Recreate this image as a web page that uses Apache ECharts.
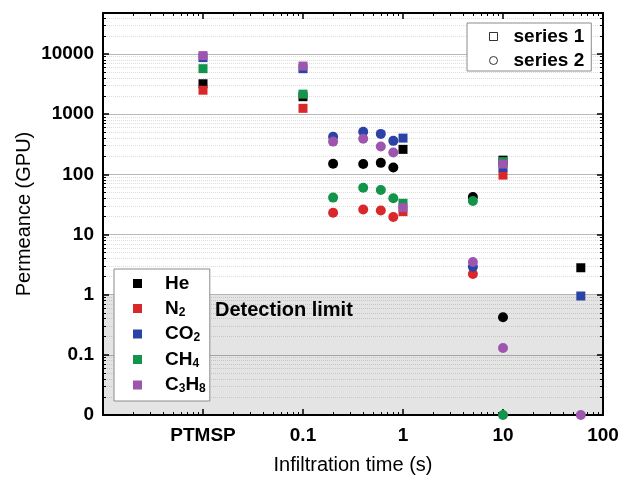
<!DOCTYPE html>
<html><head><meta charset="utf-8">
<script src="https://cdn.jsdelivr.net/npm/echarts@6/dist/echarts.min.js"></script>
<style>html,body{margin:0;padding:0;background:#fff}#c{width:622px;height:477px}</style>
</head><body><div id="c"></div><script>
// ---- data ----
const gases = ['He', 'N2', 'CO2', 'CH4', 'C3H8'];
const gasColors = ['#000000', '#d8282a', '#2b43a6', '#13944b', '#9e55ae'];
const xTickLabels = [[0.01, 'PTMSP'], [0.1, '0.1'], [1, '1'], [10, '10'], [100, '100']];
const yTickLabels = [[0.01, '0'], [0.1, '0.1'], [1, '1'], [10, '10'], [100, '100'], [1000, '1000'], [10000, '10000']];

// series 1 (squares)
const squareX = [0.01, 0.1, 1, 10, 60];
const heSquare = [3200, 1950, 260, 172, 2.8];
const n2Square = [2500, 1250, 24, 97, null];
const co2Square = [8700, 5700, 400, 130, 0.95];
const ch4Square = [5700, 2150, 33, 163, null];
const c3h8Square = [9400, 6300, 28, 148, null];

// series 2 (circles)
const circleX = [0.2, 0.4, 0.6, 0.8, 5, 10, 60];
const heCircle = [150, 148, 155, 130, 42, 0.42, null];
const n2Circle = [23, 26, 25, 19.5, 2.2, null, null];
const co2Circle = [420, 510, 470, 360, 2.9, null, null];
const ch4Circle = [41, 60, 55, 40, 36, 0, null];
const c3h8Circle = [350, 390, 290, 230, 3.5, 0.13, 0];

const squareSets = [heSquare, n2Square, co2Square, ch4Square, c3h8Square];
const circleSets = [heCircle, n2Circle, co2Circle, ch4Circle, c3h8Circle];

// ---- chart ----
const X_MIN = 0.001, X_MAX = 100, Y_MIN = 0.01, Y_MAX = 48000;
const FONT = '"Liberation Sans", Arial, Helvetica, sans-serif';

function lookup(table, v) {
  for (const [k, s] of table) {
    if (Math.abs(Math.log10(v) - Math.log10(k)) < 1e-6) return s;
  }
  return '';
}
function pts(xs, ys) {
  const out = [];
  xs.forEach((x, i) => {
    const y = ys[i];
    if (y === null || y === undefined) return;
    out.push([x, y === 0 ? Y_MIN : y]);
  });
  return out;
}

const series = [];
series.push({
  name: 'detection', type: 'scatter', data: [], z: 1, silent: true,
  markArea: {
    silent: true,
    itemStyle: { color: 'rgba(0,0,0,0.105)' },
    label: {
      show: true, position: [112, 6], formatter: 'Detection limit',
      fontFamily: FONT, fontWeight: 'bold', fontSize: 20, color: '#000'
    },
    data: [[{ coord: [X_MIN, Y_MIN] }, { coord: [X_MAX, 1] }]]
  }
});
gases.forEach((g, i) => {
  series.push({
    name: g, type: 'scatter', symbol: 'rect', symbolSize: 9, clip: false,
    itemStyle: { color: gasColors[i], opacity: 1 },
    data: pts(squareX, squareSets[i])
  });
});
gases.forEach((g, i) => {
  series.push({
    name: g, type: 'scatter', symbol: 'circle', symbolSize: 10, clip: false,
    itemStyle: { color: gasColors[i], opacity: 1 },
    data: pts(circleX, circleSets[i])
  });
});
series.push({ name: 'series 1', type: 'scatter', data: [] });
series.push({ name: 'series 2', type: 'scatter', data: [] });

const subText = { 'He': '{sp|}{b|He}', 'N2': '{sp|}{b|N}{s|2}', 'CO2': '{sp|}{b|CO}{s|2}', 'CH4': '{sp|}{b|CH}{s|4}', 'C3H8': '{sp|}{b|C}{s|3}{b|H}{s|8}' };
const richBase = {
  b: { fontFamily: FONT, fontWeight: 'bold', fontSize: 19, color: '#000', lineHeight: 20 },
  s: { fontFamily: FONT, fontWeight: 'bold', fontSize: 12, color: '#000', lineHeight: 11, verticalAlign: 'bottom' }
};

const axisCommon = {
  type: 'log', logBase: 10,
  axisLine: { show: true, onZero: false, lineStyle: { color: '#000', width: 2 } },
  axisTick: { show: true, inside: true, length: 6, lineStyle: { color: '#000', width: 1.5 } },
  minorTick: { show: true, splitNumber: 9, length: 3, lineStyle: { color: '#000', width: 1 } }
};

const option = {
  animation: false,
  backgroundColor: '#fff',
  textStyle: { fontFamily: FONT },
  grid: { left: 103, right: 19, top: 13, bottom: 62, containLabel: false, outerBoundsMode: 'none' },
  xAxis: [
    Object.assign({}, axisCommon, {
      position: 'bottom', min: X_MIN, max: X_MAX,
      splitLine: { show: false },
      axisLabel: { formatter: v => lookup(xTickLabels, v), fontFamily: FONT, fontWeight: 'bold', fontSize: 19, color: '#000', margin: 11, showMinLabel: true, showMaxLabel: true },
      name: 'Infiltration time (s)', nameLocation: 'middle', nameGap: 40,
      nameTextStyle: { fontFamily: FONT, fontSize: 20, color: '#000' }
    }),
    Object.assign({}, axisCommon, {
      position: 'top', min: X_MIN, max: X_MAX,
      splitLine: { show: false }, axisLabel: { show: false }
    })
  ],
  yAxis: [
    Object.assign({}, axisCommon, {
      position: 'left', min: Y_MIN, max: Y_MAX,
      splitLine: { show: true, lineStyle: { color: '#b8b8b8', width: 1 } },
      minorSplitLine: { show: true, lineStyle: { color: '#dedede', width: 1, type: 'dotted' } },
      axisLabel: { formatter: v => lookup(yTickLabels, v), fontFamily: FONT, fontWeight: 'bold', fontSize: 19, color: '#000', margin: 9, showMinLabel: true, showMaxLabel: true },
      name: 'Permeance (GPU)', nameLocation: 'middle', nameGap: 69, nameMoveOverlap: false,
      nameTextStyle: { fontFamily: FONT, fontSize: 20, color: '#000' }
    }),
    Object.assign({}, axisCommon, {
      position: 'right', min: Y_MIN, max: Y_MAX,
      splitLine: { show: false }, axisLabel: { show: false }
    })
  ],
  legend: [
    {
      data: gases.map((g, i) => ({ name: g, icon: 'rect', itemStyle: { color: gasColors[i] } })),
      orient: 'vertical', left: 114, top: 269,
      itemWidth: 9, itemHeight: 9, itemGap: 6,
      padding: [5, 4, 6, 19],
      backgroundColor: '#fff', borderColor: '#8c8c8c', borderWidth: 1, borderRadius: 0,
      selectedMode: false,
      formatter: name => subText[name],
      textStyle: { rich: Object.assign({ sp: { width: 18 } }, richBase) }
    },
    {
      data: [
        { name: 'series 1', icon: 'rect', itemStyle: { color: '#fff', borderColor: '#000', borderWidth: 1 } },
        { name: 'series 2', icon: 'circle', itemStyle: { color: '#fff', borderColor: '#000', borderWidth: 1 } }
      ],
      orient: 'vertical', left: 467, top: 23,
      itemWidth: 8, itemHeight: 8, itemGap: 5,
      padding: [4, 7, 1, 22],
      backgroundColor: '#fff', borderColor: '#8c8c8c', borderWidth: 1, borderRadius: 0,
      selectedMode: false,
      formatter: name => '{sp|}{b|' + name + '}',
      textStyle: { rich: Object.assign({ sp: { width: 11 } }, richBase) }
    }
  ],
  series: series
};

const chart = echarts.init(document.getElementById('c'), null, { renderer: 'canvas' });
chart.setOption(option);
</script></body></html>
